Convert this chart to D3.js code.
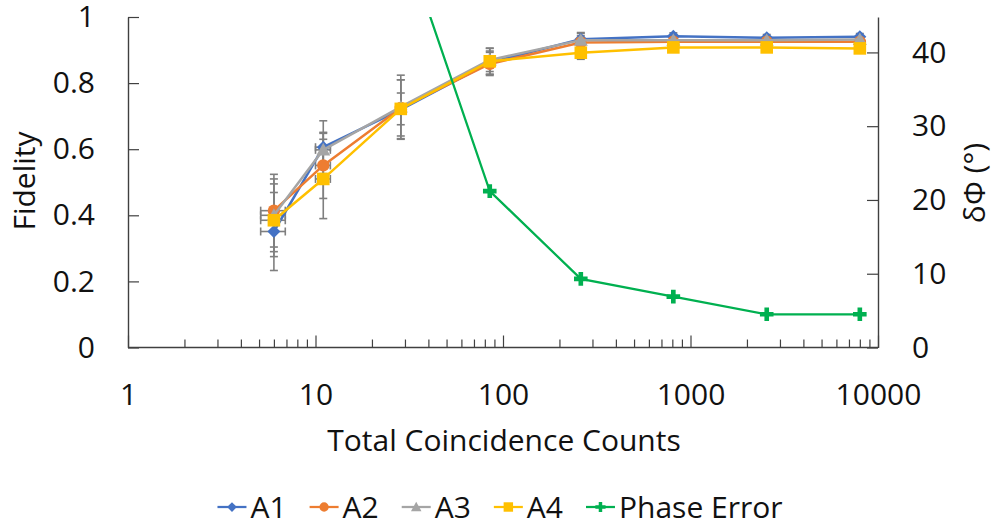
<!DOCTYPE html>
<html>
<head>
<meta charset="utf-8">
<script src="https://cdn.jsdelivr.net/npm/d3@7"></script>
<style>
  html, body { margin: 0; padding: 0; background: #fff; }
  svg text { font-family: "Open Sans", "DejaVu Sans", sans-serif; fill: #111; }
</style>
</head>
<body>
<div id="chart"></div>
<script>
// Total coincidence counts (x values, log scale)
const counts = [6, 11, 28.5, 85, 260, 810, 2550, 8000];
const countErr = [0.9, 1, 1, 1, 1, 1, 1, 1];

// Fidelity per series
const fidA1 = [0.351, 0.606, 0.720, 0.862, 0.933, 0.942, 0.937, 0.940];
const fidA2 = [0.414, 0.551, 0.725, 0.858, 0.923, 0.925, 0.925, 0.925];
const fidA3 = [0.400, 0.598, 0.728, 0.870, 0.930, 0.930, 0.930, 0.932];
const fidA4 = [0.385, 0.510, 0.722, 0.866, 0.892, 0.908, 0.908, 0.905];

// Fidelity error bars
const errA1 = [0.118, 0.080, 0.090, 0.035, 0.020, 0.010, 0.010, 0.010];
const errA2 = [0.110, 0.100, 0.085, 0.035, 0.020, 0.010, 0.010, 0.010];
const errA3 = [0.110, 0.050, 0.096, 0.035, 0.020, 0.010, 0.010, 0.010];
const errA4 = [0.110, 0.120, 0.048, 0.040, 0.020, 0.010, 0.010, 0.010];

// Phase error (degrees), secondary axis
const phaseCounts = [28.5, 85, 260, 810, 2550, 8000];
const phaseError = [56.5, 21.2, 9.3, 6.9, 4.5, 4.5];

// Ticks
const xTicks = [1, 10, 100, 1000, 10000];
const fidTicks = [0, 0.2, 0.4, 0.6, 0.8, 1];
const phaseTicks = [0, 10, 20, 30, 40];

const seriesNames = ["A1", "A2", "A3", "A4"];
const seriesColors = ["#4472C4", "#ED7D31", "#A5A5A5", "#FFC000"];
const seriesShapes = ["diamond", "circle", "triangle", "square"];
const phaseColor = "#00B050";

const W = 995, H = 525;
const plot = {left: 128, right: 878, top: 17, bottom: 347.5};

const svg = d3.select("#chart").append("svg")
  .attr("width", W)
  .attr("height", H);

const x = d3.scaleLog().domain([1, 10000]).range([plot.left, plot.right]);
const y = d3.scaleLinear().domain([0, 1]).range([plot.bottom, plot.top]);
const y2 = d3.scaleLinear().domain([0, 44.8]).range([plot.bottom, plot.top]);

// marker path generator
function markerPath(shape, s) {
  const p = d3.path();
  if (shape === "diamond") {
    p.moveTo(0, -s); p.lineTo(s, 0); p.lineTo(0, s); p.lineTo(-s, 0); p.closePath();
  } else if (shape === "circle") {
    p.arc(0, 0, s, 0, 2 * Math.PI);
  } else if (shape === "triangle") {
    p.moveTo(0, -s); p.lineTo(s, s * 0.8); p.lineTo(-s, s * 0.8); p.closePath();
  } else if (shape === "square") {
    p.rect(-s, -s, 2 * s, 2 * s);
  } else if (shape === "plus") {
    const a = s, b = s * 0.34;
    p.moveTo(-b, -a); p.lineTo(b, -a); p.lineTo(b, -b); p.lineTo(a, -b); p.lineTo(a, b);
    p.lineTo(b, b); p.lineTo(b, a); p.lineTo(-b, a); p.lineTo(-b, b); p.lineTo(-a, b);
    p.lineTo(-a, -b); p.lineTo(-b, -b); p.closePath();
  }
  return p.toString();
}
const markerSize = {diamond: 6.5, circle: 6.2, triangle: 7, square: 6.3, plus: 6.8};

// clip for the phase line
svg.append("defs").append("clipPath").attr("id", "plot-clip")
  .append("rect")
  .attr("x", plot.left).attr("y", plot.top)
  .attr("width", plot.right - plot.left).attr("height", plot.bottom - plot.top);

// ---- axes ----
const axisColor = "#404040";

const xAxis = svg.append("g")
  .attr("transform", `translate(0,${plot.bottom})`)
  .call(d3.axisBottom(x).tickValues(xTicks).tickFormat(d3.format("d")).tickSize(-12).tickPadding(36));

const minorTicks = [];
for (let e = 0; e < 4; e++) for (let m = 2; m <= 9; m++) minorTicks.push(m * Math.pow(10, e));
svg.append("g")
  .attr("transform", `translate(0,${plot.bottom})`)
  .call(d3.axisBottom(x).tickValues(minorTicks).tickFormat("").tickSize(-8).tickSizeOuter(0))
  .call(g => g.select(".domain").remove());

svg.append("g")
  .attr("transform", `translate(${plot.left},0)`)
  .call(d3.axisLeft(y).tickValues(fidTicks).tickFormat(d3.format("~g")).tickSize(-11).tickSizeOuter(0).tickPadding(33));

svg.append("g")
  .attr("transform", `translate(${plot.right},0)`)
  .call(d3.axisRight(y2).tickValues(phaseTicks).tickSize(-11).tickSizeOuter(0).tickPadding(34));

svg.selectAll(".domain").attr("stroke", axisColor).attr("stroke-width", 1.4);
svg.selectAll(".tick line").attr("stroke", axisColor).attr("stroke-width", 1.2);
svg.selectAll(".tick text")
  .attr("font-size", 30)
  .style("font-family", "'Open Sans', sans-serif")
  .attr("fill", "#111");

// x domain: drop outer ticks at the corners
xAxis.select(".domain").attr("d", `M${plot.left},0H${plot.right}`);

// ---- axis titles ----
svg.append("text")
  .attr("x", (plot.left + plot.right) / 2 + 1)
  .attr("y", 451)
  .attr("text-anchor", "middle")
  .attr("font-size", 30)
  .text("Total Coincidence Counts");

svg.append("text")
  .attr("transform", "translate(35,181) rotate(-90)")
  .attr("text-anchor", "middle")
  .attr("font-size", 30)
  .text("Fidelity");

svg.append("text")
  .attr("transform", "translate(985,183) rotate(-90)")
  .attr("text-anchor", "middle")
  .attr("font-size", 30)
  .text("δΦ (°)");

// ---- fidelity series ----
const fidSeries = [fidA1, fidA2, fidA3, fidA4];
const errSeries = [errA1, errA2, errA3, errA4];
const errColor = "#7F7F7F";

const data = fidSeries.map((vals, k) => vals.map((v, i) => ({
  c: counts[i], ce: countErr[i], v: v, e: errSeries[k][i]
})));

data.forEach((pts, k) => {
  const g = svg.append("g");
  // error bars
  pts.forEach(d => {
    const cx = x(d.c), cy = y(d.v);
    const yt = y(d.v + d.e), yb = y(d.v - d.e);
    const xl = x(d.c - d.ce), xr = x(d.c + d.ce);
    const eb = g.append("g").attr("stroke", errColor).attr("stroke-width", 1.6).attr("fill", "none");
    eb.append("line").attr("x1", cx).attr("x2", cx).attr("y1", yt).attr("y2", yb);
    eb.append("line").attr("x1", cx - 4).attr("x2", cx + 4).attr("y1", yt).attr("y2", yt);
    eb.append("line").attr("x1", cx - 4).attr("x2", cx + 4).attr("y1", yb).attr("y2", yb);
    eb.append("line").attr("x1", xl).attr("x2", xr).attr("y1", cy).attr("y2", cy);
    eb.append("line").attr("x1", xl).attr("x2", xl).attr("y1", cy - 4).attr("y2", cy + 4);
    eb.append("line").attr("x1", xr).attr("x2", xr).attr("y1", cy - 4).attr("y2", cy + 4);
  });
});

data.forEach((pts, k) => {
  const g = svg.append("g");
  g.append("path")
    .datum(pts)
    .attr("d", d3.line().x(d => x(d.c)).y(d => y(d.v)))
    .attr("fill", "none")
    .attr("stroke", seriesColors[k])
    .attr("stroke-width", 2.5)
    .attr("stroke-linejoin", "round");
  g.selectAll(".marker")
    .data(pts)
    .enter().append("path")
    .attr("transform", d => `translate(${x(d.c)},${y(d.v)})`)
    .attr("d", markerPath(seriesShapes[k], markerSize[seriesShapes[k]]))
    .attr("fill", seriesColors[k]);
});

// ---- phase error series ----
const phaseData = phaseCounts.map((c, i) => ({c: c, v: phaseError[i]}));
const pg = svg.append("g").attr("clip-path", "url(#plot-clip)");
pg.append("path")
  .datum(phaseData)
  .attr("d", d3.line().x(d => x(d.c)).y(d => y2(d.v)))
  .attr("fill", "none")
  .attr("stroke", phaseColor)
  .attr("stroke-width", 2.25);
pg.selectAll(".pmarker")
  .data(phaseData)
  .enter().append("path")
  .attr("transform", d => `translate(${x(d.c)},${y2(d.v)})`)
  .attr("d", markerPath("plus", markerSize.plus))
  .attr("fill", phaseColor);

// ---- legend ----
const legendItems = seriesNames.map((n, k) => ({name: n, color: seriesColors[k], shape: seriesShapes[k]}))
  .concat([{name: "Phase Error", color: phaseColor, shape: "plus"}]);

const legend = svg.append("g");
const ly = 507;
let lx = 0;
legendItems.forEach((it, i) => {
  const item = legend.append("g").attr("transform", `translate(${lx},0)`);
  item.append("line")
    .attr("x1", 0).attr("x2", 29).attr("y1", ly).attr("y2", ly)
    .attr("stroke", it.color).attr("stroke-width", 2.25);
  item.append("path")
    .attr("transform", `translate(14.5,${ly})`)
    .attr("d", markerPath(it.shape, markerSize[it.shape] * 0.75))
    .attr("fill", it.color);
  const t = item.append("text")
    .attr("x", 33)
    .attr("y", ly + 11)
    .attr("font-size", 30)
    .text(it.name);
  lx += 33 + t.node().getComputedTextLength() + 23;
});
const legendWidth = lx - 23;
legend.attr("transform", `translate(${500 - legendWidth / 2},0)`);
</script>
</body>
</html>
